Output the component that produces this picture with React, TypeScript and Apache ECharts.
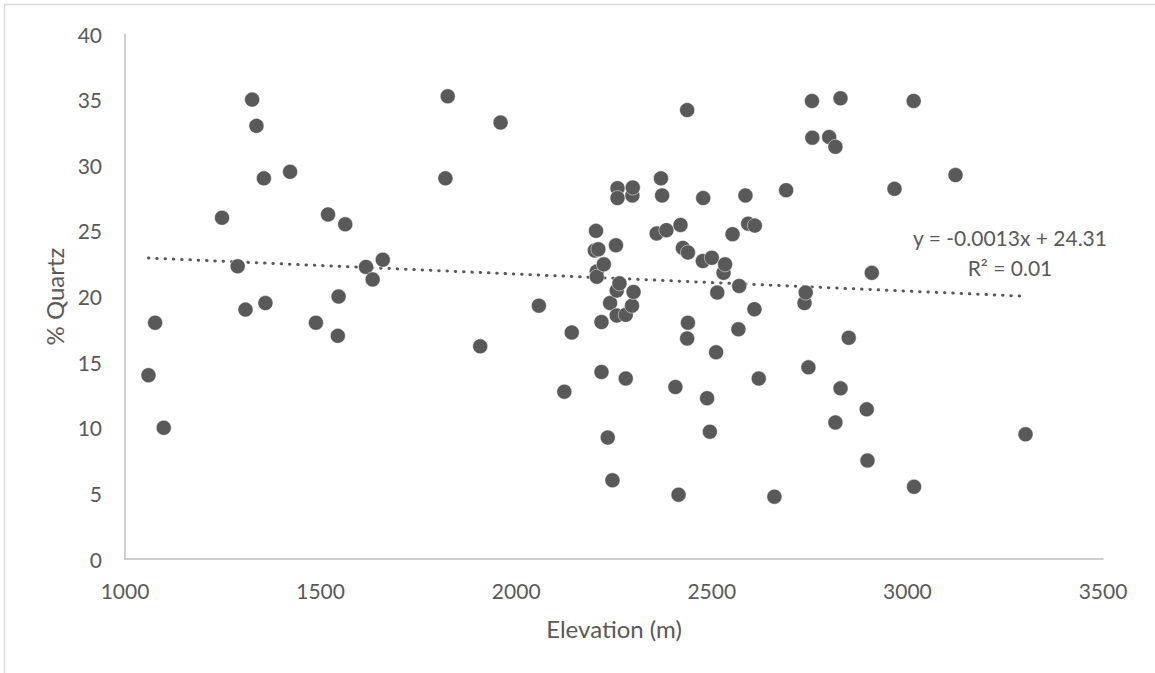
import React, { useEffect, useRef } from "react";
import * as echarts from "echarts";

// Elevation (m) of each sample
const elevation: number[] = [
  1060, 1077, 1099, 1248, 1288, 1308, 1325, 1336, 1355, 1359,
  1422, 1488, 1519, 1544, 1546, 1563, 1616, 1633, 1659, 1819,
  1825, 1908, 1960, 2058, 2123, 2142, 2201, 2204, 2206, 2206,
  2210, 2218, 2218, 2224, 2234, 2240, 2246, 2255, 2257, 2257,
  2259, 2259, 2264, 2280, 2280, 2296, 2297, 2298, 2300, 2359,
  2370, 2373, 2384, 2407, 2415, 2420, 2426, 2437, 2437, 2439,
  2439, 2477, 2478, 2488, 2495, 2500, 2511, 2514, 2530, 2534,
  2553, 2568, 2570, 2586, 2593, 2609, 2610, 2620, 2660, 2690,
  2737, 2740, 2747, 2756, 2757, 2800, 2816, 2816, 2829, 2829,
  2850, 2896, 2898, 2909, 2967, 3016, 3017, 3123, 3302,
];

// % Quartz of each sample
const quartz: number[] = [
  14.0, 18.0, 10.0, 26.0, 22.3, 19.0, 35.0, 33.0, 29.0, 19.5,
  29.5, 18.0, 26.25, 17.0, 20.0, 25.5, 22.25, 21.3, 22.8, 29.0,
  35.25, 16.2, 33.25, 19.3, 12.75, 17.25, 23.5, 25.0, 21.9, 21.5,
  23.6, 18.05, 14.25, 22.45, 9.25, 19.5, 6.0, 23.9, 20.45, 18.55,
  28.25, 27.5, 21.0, 18.6, 13.75, 19.3, 27.7, 28.3, 20.35, 24.8,
  29.0, 27.7, 25.05, 13.1, 4.9, 25.45, 23.7, 34.2, 16.8, 18.0,
  23.35, 22.7, 27.5, 12.25, 9.7, 22.95, 15.75, 20.3, 21.8, 22.45,
  24.75, 17.5, 20.8, 27.7, 25.55, 19.03, 25.4, 13.75, 4.75, 28.1,
  19.5, 20.3, 14.6, 34.9, 32.1, 32.15, 31.4, 10.4, 35.1, 13.0,
  16.85, 11.4, 7.5, 21.8, 28.2, 34.9, 5.5, 29.25, 9.5,
];

// Linear trend shown in the chart
const trendSlope = -0.0013;
const trendIntercept = 24.31;
const trendLabel = "y = -0.0013x + 24.31";
const r2Label = "R² = 0.01";

const xTicks = { min: 1000, max: 3500, interval: 500 };
const yTicks = { min: 0, max: 40, interval: 5 };

const FONT = "Lato, 'Noto Sans', sans-serif";
const TEXT = "#595959";

export default function App() {
  const ref = useRef<HTMLDivElement>(null);

  useEffect(() => {
    document.body.style.margin = "0";
    if (!ref.current) return;
    const chart = echarts.init(ref.current, undefined, { renderer: "svg" });

    const points = elevation.map((x, i) => [x, quartz[i]]);
    const xMin = Math.min(...elevation);
    const xMax = Math.max(...elevation);
    const trend = [
      [xMin, trendSlope * xMin + trendIntercept],
      [xMax, trendSlope * xMax + trendIntercept],
    ];

    chart.setOption({
      animation: false,
      backgroundColor: "#ffffff",
      textStyle: { fontFamily: FONT },
      grid: { left: 125, right: 52, top: 34, bottom: 114 },
      xAxis: {
        type: "value",
        min: xTicks.min,
        max: xTicks.max,
        interval: xTicks.interval,
        name: "Elevation (m)",
        nameLocation: "middle",
        nameGap: 57,
        nameTextStyle: { color: TEXT, fontSize: 24, fontFamily: FONT },
        axisLine: { show: true, lineStyle: { color: "#bfbfbf", width: 1.5 } },
        axisTick: { show: false },
        splitLine: { show: false },
        axisLabel: {
          color: TEXT,
          fontSize: 21,
          fontFamily: FONT,
          margin: 21,
          formatter: (v: number) => String(v),
        },
      },
      yAxis: {
        type: "value",
        min: yTicks.min,
        max: yTicks.max,
        interval: yTicks.interval,
        name: "% Quartz",
        nameLocation: "middle",
        nameGap: 57,
        nameRotate: 90,
        nameTextStyle: { color: TEXT, fontSize: 24, fontFamily: FONT },
        axisLine: { show: true, lineStyle: { color: "#bfbfbf", width: 1.5 } },
        axisTick: { show: false },
        splitLine: { show: false },
        axisLabel: {
          color: TEXT,
          fontSize: 21,
          fontFamily: FONT,
          margin: 23,
          formatter: (v: number) => String(v),
        },
      },
      series: [
        {
          type: "scatter",
          data: points,
          symbol: "circle",
          symbolSize: 15,
          itemStyle: {
            color: "#595959",
            opacity: 1,
            borderColor: "#ffffff",
            borderWidth: 0.5,
          },
          z: 3,
        },
        {
          type: "line",
          data: trend,
          showSymbol: false,
          symbol: "none",
          lineStyle: { color: "#595959", width: 3, type: [0.5, 7.8], cap: "round" },
          z: 2,
          silent: true,
        },
      ],
      graphic: [
        {
          type: "rect",
          shape: { x: 4.5, y: 4.5, width: 1300, height: 800 },
          style: { fill: "none", stroke: "#d9d9d9", lineWidth: 1.5 },
          silent: true,
          z: -1,
        },
        {
          type: "text",
          x: 1010,
          y: 237,
          style: {
            text: trendLabel,
            fill: TEXT,
            fontSize: 21,
            fontFamily: FONT,
            align: "center",
            verticalAlign: "middle",
          },
        },
        {
          type: "text",
          x: 1010,
          y: 267,
          style: {
            text: r2Label,
            fill: TEXT,
            fontSize: 21,
            fontFamily: FONT,
            align: "center",
            verticalAlign: "middle",
          },
        },
      ],
    });

    return () => chart.dispose();
  }, []);

  return <div ref={ref} style={{ width: 1155, height: 673 }} />;
}
